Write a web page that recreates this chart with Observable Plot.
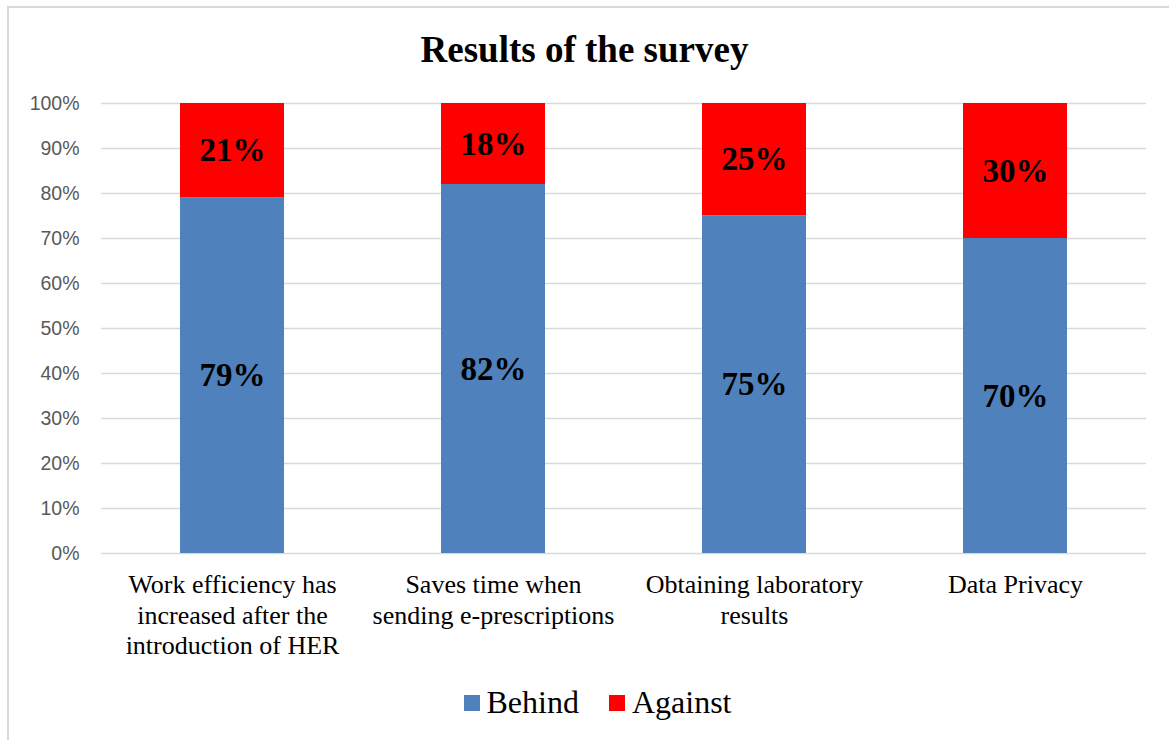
<!DOCTYPE html>
<html>
<head>
<meta charset="utf-8">
<script src="https://cdn.jsdelivr.net/npm/d3@7"></script>
<script src="https://cdn.jsdelivr.net/npm/@observablehq/plot@0.6"></script>
<style>
  html, body { margin: 0; padding: 0; background: #fff; }
  #wrap { position: relative; width: 1169px; height: 740px; overflow: hidden; background: #fff; }
  #frame { position: absolute; left: 7px; top: 6px; width: 1180px; height: 760px; border: 2px solid #d9d9d9; box-sizing: border-box; }
  #title { position: absolute; left: 0; top: 28px; width: 1169px; text-align: center; font-family: "Liberation Serif", "Times New Roman", serif; font-weight: bold; font-size: 37px; color: #000; line-height: 44px; }
  #chart { position: absolute; left: 0; top: 0; }
  #legend { position: absolute; left: 13px; top: 683px; width: 1169px; text-align: center; font-family: "Liberation Serif", "Times New Roman", serif; font-size: 32px; color: #000; line-height: 38px; }
  .sw { display: inline-block; width: 16px; height: 16px; margin-right: 7px; vertical-align: 2px; }
  .item { display: inline-block; margin: 0 15px; }
</style>
</head>
<body>
<div id="wrap">
  <div id="frame"></div>
  <div id="chart"></div>
  <div id="title">Results of the survey</div>
  <div id="legend"></div>
</div>
<script>
const categories = [
  "Work efficiency has\nincreased after the\nintroduction of HER",
  "Saves time when\nsending e-prescriptions",
  "Obtaining laboratory\nresults",
  "Data Privacy"
];
const behind = [79, 82, 75, 70];
const against = [21, 18, 25, 30];
const seriesNames = ["Behind", "Against"];
const seriesColors = ["#4f81bd", "#ff0000"];
const yTicks = [0, 10, 20, 30, 40, 50, 60, 70, 80, 90, 100];

const rows = [];
categories.forEach((c, i) => {
  rows.push({category: c, series: "Behind", value: behind[i]});
  rows.push({category: c, series: "Against", value: against[i]});
});

const chart = Plot.plot({
  width: 1169,
  height: 680,
  marginTop: 103,
  marginBottom: 127,
  marginLeft: 101,
  marginRight: 23,
  style: {background: "transparent", overflow: "visible"},
  x: {domain: categories, paddingInner: 0.6, paddingOuter: 0.3, label: null},
  y: {domain: [0, 100], label: null},
  color: {domain: seriesNames, range: seriesColors},
  marks: [
    Plot.gridY(yTicks, {stroke: "#d9d9d9", strokeOpacity: 1, strokeWidth: 1.5}),
    Plot.barY(rows, Plot.stackY({x: "category", y: "value", fill: "series", order: seriesNames})),
    Plot.text(rows, Plot.stackY({
      x: "category", y: "value", z: "series", order: seriesNames,
      text: d => d.value + "%",
      fontFamily: "Liberation Serif, Times New Roman, serif",
      fontWeight: "bold", fontSize: 33, fill: "#000"
    })),
    Plot.axisY({
      ticks: yTicks, tickSize: 0, tickPadding: 22,
      tickFormat: d => d + "%",
      fontFamily: "Liberation Sans, Arial, sans-serif", fontSize: 19.5, fill: "#595959"
    }),
    Plot.axisX({
      tickSize: 0, tickPadding: 18, lineHeight: 1.17,
      fontFamily: "Liberation Serif, Times New Roman, serif", fontSize: 26, fill: "#000"
    })
  ]
});
document.getElementById("chart").appendChild(chart);

const legend = document.getElementById("legend");
seriesNames.forEach((name, i) => {
  const item = document.createElement("span");
  item.className = "item";
  const sw = document.createElement("span");
  sw.className = "sw";
  sw.style.background = seriesColors[i];
  item.appendChild(sw);
  item.appendChild(document.createTextNode(name));
  legend.appendChild(item);
});
</script>
</body>
</html>
